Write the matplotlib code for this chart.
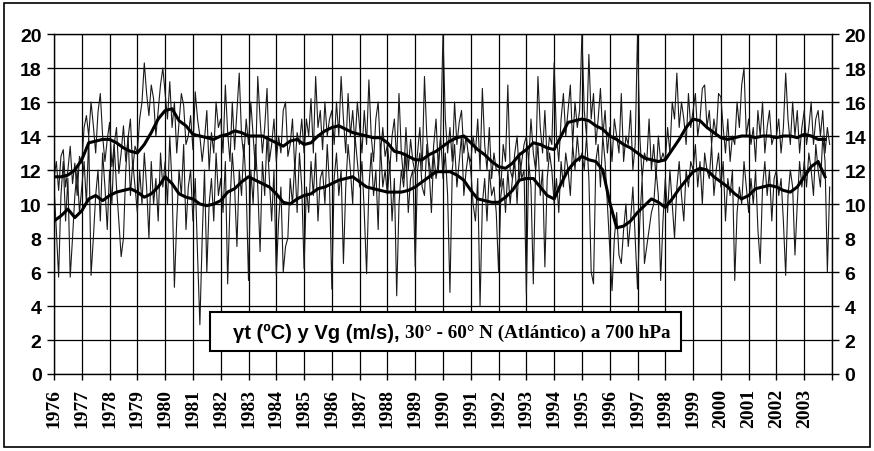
import numpy as np
import matplotlib
matplotlib.use("Agg")
import matplotlib.pyplot as plt
from matplotlib.patches import Rectangle

# years shown on the axis
years = list(range(1976, 2004))

# monthly thin series (upper: gamma t, lower: Vg), one row per year
gt_monthly = [
    11.5, 12.5, 10.8, 12.8, 13.2, 11.0, 12.0, 13.4, 11.2, 12.4, 10.5, 12.8,
    12.4, 14.5, 15.2, 14.0, 16.0, 14.6, 13.0, 15.4, 16.5, 14.0, 12.5, 13.8,
    14.8, 12.2, 13.5, 14.5, 11.8, 13.0, 14.6, 12.5, 13.9, 15.0, 12.0, 13.4,
    13.0, 15.0, 16.0, 18.3, 16.5, 15.2, 17.0, 16.2, 14.0, 15.5, 17.0, 18.0,
    16.5, 15.0, 17.2, 14.5, 16.0, 13.0, 14.8, 16.5, 15.8, 13.5, 14.0, 15.2,
    13.2, 16.6, 15.0, 14.0, 12.5, 13.8, 15.5, 12.0, 14.2, 13.0, 16.0, 14.5,
    15.0, 13.0, 17.0, 14.2, 12.5, 16.0, 13.2, 15.5, 17.7, 14.0, 12.8, 15.0,
    13.5, 16.0, 14.0, 12.0, 17.5, 15.0, 13.0, 14.5, 16.8, 12.5, 13.5, 15.0,
    12.5, 14.0, 13.0, 15.5, 16.0, 12.8, 13.5, 15.0, 12.0, 14.2, 13.5, 15.0,
    13.0, 15.0, 14.0, 16.2, 13.0, 17.5, 14.5, 15.5, 13.2, 16.0, 14.0, 15.0,
    15.5, 13.5, 16.0, 14.0, 17.5, 15.0, 13.0, 16.5, 14.0, 15.5, 13.5, 16.0,
    14.5, 13.0, 15.5, 13.5, 17.3, 14.0, 12.5, 15.0, 16.0, 13.0, 14.5, 12.8,
    13.5, 12.0, 14.0, 15.0, 12.5, 16.5, 13.0, 11.5, 14.5, 12.0, 13.8, 12.5,
    11.8, 13.0, 14.5, 12.0, 17.5, 14.0, 12.5, 11.5, 13.5, 15.0, 12.0, 14.0,
    20.0, 15.0, 13.0, 14.5, 12.5, 16.0, 13.5, 14.8, 15.5, 13.0, 14.0, 12.8,
    12.5, 14.0, 13.0, 15.0, 12.0, 16.8, 13.5, 12.0, 14.5, 11.5, 13.0, 12.0,
    12.0, 11.0, 13.5, 12.5, 17.0, 12.0, 11.5, 13.0, 14.0, 11.5, 12.5, 13.5,
    14.0, 12.5, 15.0, 13.0, 12.0, 17.5, 14.5, 13.0, 15.5, 12.5, 14.0, 13.5,
    18.3, 14.0, 12.5, 15.0, 16.5, 14.0, 15.5, 17.0, 13.5, 16.0, 14.5, 15.5,
    20.0, 15.5, 14.0, 18.8, 15.0, 16.5, 13.5, 15.0, 16.8, 14.0, 15.5, 13.0,
    14.5, 12.5, 15.0, 14.0, 13.0, 16.5, 12.5, 14.0, 13.5, 15.5, 12.0, 13.5,
    20.0, 14.0, 11.5, 13.0, 12.5, 15.0, 12.0, 13.5, 11.5, 14.0, 12.5, 13.0,
    12.5, 14.5, 13.0, 16.0, 15.0, 17.7, 14.5, 16.0, 15.0, 13.5, 16.5, 14.5,
    15.5, 16.5, 14.0, 15.0, 16.8, 17.0, 14.5, 15.5, 13.5, 15.0, 14.0, 16.5,
    16.3, 14.5, 13.0, 15.0, 12.5, 14.0, 13.5, 16.0, 14.5, 17.0, 18.0, 14.0,
    15.0, 13.5, 14.5, 12.5, 15.5, 14.0, 16.0, 13.0, 14.5, 15.5, 13.5, 14.0,
    14.0, 15.0, 13.0, 14.5, 17.7, 15.0, 13.5, 16.0, 14.0, 15.5, 13.0, 14.5,
    15.5, 13.5, 14.5, 16.0, 13.5, 15.0, 15.5, 14.0, 15.5, 13.0, 14.5, 13.5,
]

vg_monthly = [
    11.0, 8.5, 5.7, 10.5, 12.5, 9.0, 11.5, 5.7, 8.0, 10.5, 12.0, 9.5,
    11.0, 12.5, 10.0, 14.0, 5.8, 8.0, 10.5, 12.0, 9.0, 13.0, 11.0, 8.5,
    12.0, 10.0, 13.5, 11.0, 9.0, 6.9, 8.0, 12.0, 14.0, 10.5, 12.5, 11.0,
    9.5, 12.0, 10.0, 13.0, 11.0, 8.0, 12.5, 10.0, 11.5, 9.0, 13.0, 11.0,
    12.5, 10.0, 14.0, 11.0, 5.1, 9.0, 12.0, 10.5, 13.5, 8.5, 11.0, 12.0,
    9.0, 11.5, 7.0, 2.9, 8.0, 12.0, 6.0, 10.0, 11.5, 9.0, 13.0, 10.5,
    11.5, 9.5, 12.5, 5.3, 10.0, 13.0, 11.0, 7.5, 12.0, 10.5, 13.5, 11.0,
    5.5, 12.0, 10.0, 13.5, 11.0, 7.2, 12.5, 10.5, 14.0, 11.5, 9.0, 12.0,
    5.8, 9.0, 11.0, 6.0, 7.5, 8.0, 11.5, 10.0, 12.5, 9.5, 13.0, 11.0,
    6.2, 11.0, 9.5, 12.5, 10.5, 13.0, 9.0, 11.5, 12.0, 10.0, 13.5, 11.0,
    5.0, 11.5, 13.0, 10.5, 12.0, 6.5, 11.0, 13.5, 12.0, 10.0, 14.0, 12.5,
    11.0, 12.5, 9.5, 5.9, 11.0, 13.0, 10.5, 12.0, 8.5, 13.5, 11.0, 12.0,
    10.5, 12.5, 9.0, 11.5, 4.6, 10.0, 12.0, 11.0, 13.0, 9.5, 11.5, 12.0,
    6.3, 12.0, 13.0, 11.0, 10.5, 13.5, 12.0, 9.5, 13.0, 11.5, 12.5, 14.0,
    11.5, 13.0, 10.5, 4.8, 12.0, 13.5, 11.0, 12.5, 14.0, 10.5, 12.0, 13.0,
    12.0, 10.0, 9.0, 11.5, 4.0, 10.0, 11.5, 9.0, 12.0, 10.5, 11.0, 9.5,
    6.0, 10.5, 11.5, 9.5, 12.0, 10.0, 11.5, 12.5, 10.0, 13.0, 11.5, 12.0,
    4.7, 12.5, 11.0, 5.3, 12.0, 13.5, 10.5, 12.0, 6.3, 11.5, 13.0, 12.0,
    10.0, 11.5, 9.5, 12.5, 11.0, 13.0, 12.0, 10.5, 13.5, 12.0, 14.0, 12.5,
    13.0, 12.0, 14.0, 11.5, 6.0, 5.3, 12.5, 13.5, 11.0, 14.0, 12.5, 10.0,
    7.5, 4.9, 8.0, 9.5, 7.0, 6.5, 8.5, 10.0, 7.5, 9.0, 11.0, 8.0,
    5.0, 9.0, 11.5, 6.5, 7.5, 8.5, 9.5, 10.0, 12.0, 10.5, 5.5, 9.0,
    11.5, 9.5, 12.0, 10.0, 8.0, 11.0, 12.5, 10.5, 9.0, 12.0, 11.0, 12.5,
    12.0, 13.5, 11.0, 12.5, 10.0, 13.0, 12.0, 11.5, 13.5, 10.5, 12.0, 13.0,
    11.0, 12.5, 9.0, 11.5, 10.5, 12.0, 5.5, 9.5, 11.0, 10.0, 12.5, 11.0,
    9.5, 11.5, 10.0, 12.0, 8.5, 6.5, 11.0, 12.5, 10.5, 12.0, 9.0, 11.5,
    12.0, 10.5, 11.5, 9.0, 5.8, 10.5, 12.0, 11.0, 7.0, 10.0, 12.5, 11.0,
    12.5, 11.0, 13.0, 12.0, 10.5, 13.5, 12.0, 11.0, 14.0, 12.5, 6.0, 11.0,
]

# smoothed series, one value per quarter
gt_smooth = [
    11.6, 11.6, 11.7, 12.0, 12.6, 13.6, 13.7, 13.8, 13.8, 13.6, 13.3, 13.1,
    13.0, 13.5, 14.2, 15.0, 15.5, 15.6, 14.9, 14.6, 14.1, 14.0, 13.9, 13.8,
    14.0, 14.1, 14.3, 14.2, 14.0, 14.0, 14.0, 13.8, 13.6, 13.4, 13.7, 13.8,
    13.5, 13.6, 14.0, 14.3, 14.5, 14.6, 14.4, 14.2, 14.1, 14.0, 13.9, 13.9,
    13.6, 13.1, 13.0, 12.8, 12.6, 12.6, 12.9, 13.1, 13.4, 13.7, 13.9, 14.0,
    13.6, 13.2, 12.9, 12.5, 12.2, 12.1, 12.4, 12.9, 13.2, 13.6, 13.5, 13.3,
    13.2, 14.0, 14.8, 14.9, 15.0, 14.9, 14.6, 14.4, 14.0, 13.8, 13.5, 13.3,
    13.0, 12.7, 12.6, 12.5, 12.6, 13.2, 13.8, 14.5, 15.0, 14.9, 14.5, 14.2,
    13.9, 13.8, 13.9, 14.0, 14.0, 13.9, 14.0, 14.0, 13.9, 14.0, 14.0, 13.9,
    14.1, 14.0, 13.8, 13.8,
]

vg_smooth = [
    9.0, 9.3, 9.7, 9.2, 9.6, 10.3, 10.5, 10.2, 10.5, 10.7, 10.8, 10.9,
    10.7, 10.4, 10.6, 11.0, 11.6, 11.2, 10.6, 10.4, 10.3, 10.0, 9.9, 10.0,
    10.2, 10.7, 10.9, 11.3, 11.6, 11.4, 11.2, 11.0, 10.6, 10.1, 10.0, 10.3,
    10.5, 10.6, 10.9, 11.0, 11.2, 11.4, 11.5, 11.6, 11.3, 11.0, 10.9, 10.8,
    10.7, 10.7, 10.7, 10.8, 11.0, 11.3, 11.6, 11.9, 11.9, 11.9, 11.7, 11.4,
    10.8, 10.3, 10.2, 10.1, 10.1, 10.4, 10.8, 11.4, 11.5, 11.5, 11.0, 10.5,
    10.3, 11.2, 12.0, 12.5, 12.8, 12.6, 12.5, 12.0, 10.1, 8.6, 8.7, 9.0,
    9.5, 9.9, 10.3, 10.1, 9.8, 10.3, 10.9, 11.4, 11.9, 12.1, 12.0, 11.6,
    11.3, 11.0, 10.6, 10.3, 10.5, 10.9, 11.0, 11.1, 11.0, 10.8, 10.7, 11.0,
    11.6, 12.2, 12.5, 11.6,
]

W, H = 874, 452
fig = plt.figure(figsize=(W / 100, H / 100), dpi=100)
ax = fig.add_axes([54 / W, 1 - 375 / H, (832 - 54) / W, (375 - 35) / H])

t_month = 1976 + np.arange(len(gt_monthly)) / 12.0
t_quarter = 1976 + np.arange(len(gt_smooth)) / 4.0

ax.plot(t_month, gt_monthly, color="#1a1a1a", lw=0.8)
ax.plot(t_month, vg_monthly, color="#1a1a1a", lw=0.8)
ax.plot(t_quarter, gt_smooth, color="black", lw=2.2)
ax.plot(t_quarter, vg_smooth, color="black", lw=2.2)

ax.set_xlim(1976, 2004)
ax.set_ylim(0, 20)
ax.set_xticks(range(1976, 2005))
ax.set_xticklabels([str(y) for y in years] + [""], rotation=90,
                   family="Liberation Serif", fontweight="bold", fontsize=14)
ax.set_yticks(range(0, 21, 2))
ax.tick_params(axis="y", which="both", left=True, right=True,
               labelleft=True, labelright=True, length=5, width=1,
               labelsize=14, pad=4)
ax.tick_params(axis="x", length=4, width=1, pad=6)
for lab in ax.get_yticklabels():
    lab.set_fontfamily("Liberation Sans")
    lab.set_fontweight("bold")
ax.grid(True, color="black", lw=0.9)
for s in ax.spines.values():
    s.set_color("black")
    s.set_linewidth(1.0)

# outer frame of the figure
fig.patches.append(Rectangle((4 / W, 4 / H), (870 - 4) / W, (448 - 4) / H,
                             transform=fig.transFigure, fill=False,
                             edgecolor="black", lw=1.2))

# caption box
fig.patches.append(Rectangle((210 / W, 1 - 352 / H), (681 - 210) / W, (352 - 313) / H,
                             transform=fig.transFigure, facecolor="white",
                             edgecolor="black", lw=1.5, zorder=5))
fig.text(400 / W, 1 - 333 / H, "γt (ºC) y Vg (m/s),", ha="right", va="center",
         family="Liberation Sans", fontweight="bold", fontsize=14.5, zorder=6)
fig.text(405 / W, 1 - 333 / H, "30° - 60° N (Atlántico) a 700 hPa", ha="left",
         va="center", family="Liberation Serif", fontweight="bold",
         fontsize=13.8, zorder=6)

fig.savefig("out.png", dpi=100)
